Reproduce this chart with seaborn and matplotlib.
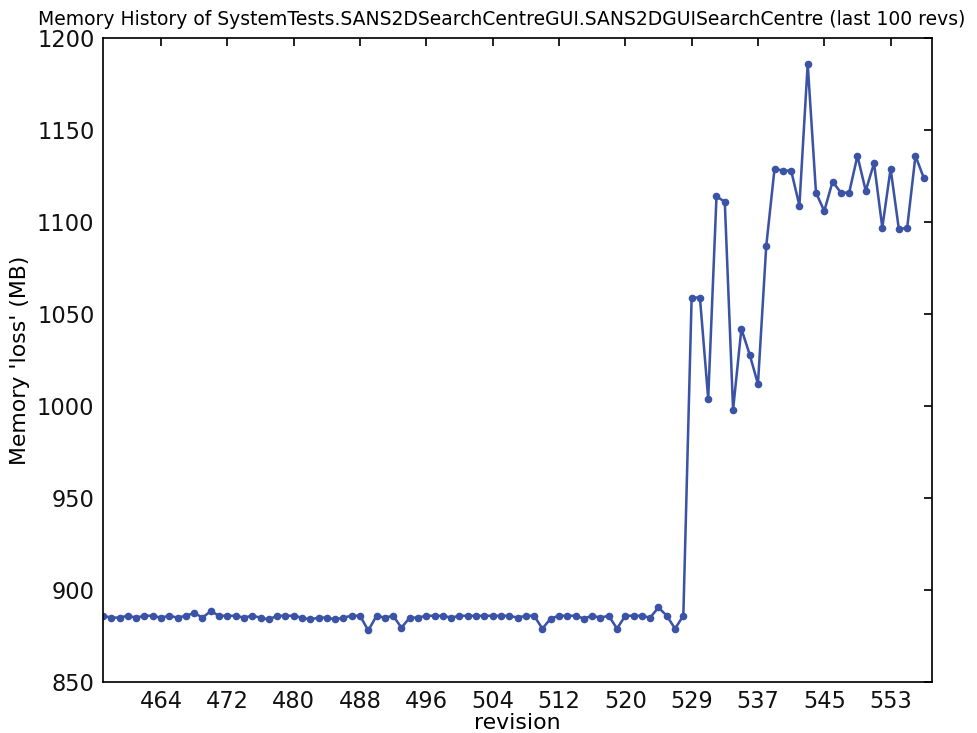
import matplotlib
matplotlib.use('Agg')
import matplotlib.pyplot as plt
import seaborn as sns
import pandas as pd

# revision numbers of the last 100 runs (one revision missing after 524)
revisions = list(range(457, 525)) + list(range(526, 558))

# memory 'loss' in MB
memory_mb = [
    886, 885, 885, 886, 885, 886, 886, 885, 886, 885,
    886, 887.5, 885, 888.5, 886, 886, 886, 885, 886, 885,
    884, 886, 886, 886, 885, 884, 885, 885, 884, 885,
    886, 886, 878, 886, 885, 886, 879.5, 885, 885, 886,
    886, 886, 885, 886, 886, 886, 886, 886, 886, 886,
    885, 886, 886, 879, 884.5, 886, 886, 886, 884.5, 886,
    885, 886, 879, 886, 886, 886, 885, 890.5, 886, 879,
    886, 1059, 1059, 1004, 1114, 1111, 998, 1042, 1028, 1012,
    1087, 1129, 1128, 1128, 1109, 1186, 1116, 1106, 1122, 1116,
    1116, 1136, 1117, 1132, 1097, 1129, 1096, 1097, 1136, 1124,
]

test_name = 'SystemTests.SANS2DSearchCentreGUI.SANS2DGUISearchCentre'
line_color = '#3a53a6'

df = pd.DataFrame({'idx': range(len(memory_mb)), 'revision': revisions, 'memory': memory_mb})

sns.set_style('white')
plt.rcParams['font.family'] = ['DejaVu Sans']
plt.rcParams['text.color'] = 'black'
plt.rcParams['axes.labelcolor'] = 'black'

fig = plt.figure(figsize=(977 / 122, 733 / 122), dpi=122)
ax = fig.add_axes([0.1054, 0.0696, 0.8486, 0.8784])

sns.lineplot(data=df, x='idx', y='memory', ax=ax, color=line_color, linewidth=1.5,
             marker='o', markersize=4.5, markeredgecolor=line_color, markeredgewidth=0)

# label every 8th point with its revision number
tick_idx = df['idx'][7::8]
ax.set_xticks(tick_idx)
ax.set_xticklabels(df['revision'][7::8])
ax.set_xlim(0, 100)
ax.set_ylim(850, 1200)
ax.set_yticks(range(850, 1201, 50))

ax.tick_params(direction='in', length=5, width=1, top=True, right=True,
               labelsize=13.3, colors='black', labelcolor='#111111', pad=5)
for s in ax.spines.values():
    s.set_color('black')
    s.set_linewidth(1)

ax.set_xlabel('revision', fontsize=13, labelpad=0)
ax.set_ylabel("Memory 'loss' (MB)", fontsize=13, labelpad=4)
ax.set_title(f'Memory History of {test_name} (last 100 revs)', fontsize=11.1,
             x=0.481, pad=8, color='black')

fig.savefig('out.png', dpi=122)
